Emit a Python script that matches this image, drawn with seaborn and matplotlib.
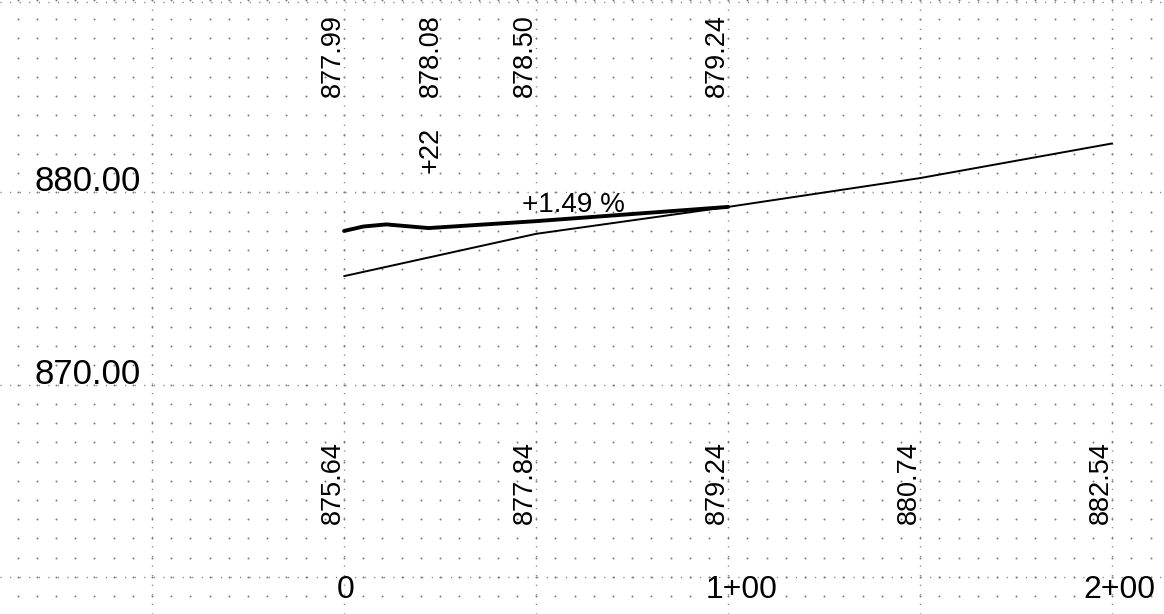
import numpy as np
import pandas as pd
import matplotlib
matplotlib.use("Agg")
import matplotlib.pyplot as plt
import seaborn as sns

# ---- data ----
ground_stations = [0, 5, 11, 22, 50, 100]
ground_elev = [877.99, 878.22, 878.33, 878.14, 878.50, 879.24]
ground_label_stations = [0, 22, 50, 100]
ground_label_elev = [877.99, 878.08, 878.50, 879.24]

grade_stations = [0, 50, 100, 150, 200]
grade_elev = [875.64, 877.84, 879.24, 880.74, 882.54]

station_ticks = [0, 100, 200]
station_labels = ["0", "1+00", "2+00"]
elev_ticks = [870, 880]
elev_labels = ["870.00", "880.00"]
grade_text = "+1.49 %"
pc_text = "+22"
pc_station = 22

sns.set_style("white")
plt.rcParams['font.family'] = ['Liberation Sans', 'DejaVu Sans']
plt.rcParams['text.color'] = 'black'

fig = plt.figure(figsize=(11.64, 6.14), dpi=100)
ax = fig.add_axes([0, 0, 1, 1])
for s in ax.spines.values():
    s.set_visible(False)

# background dot lattice (5 ft x 1 unit)
gx = np.arange(-85, 215, 5)
gy = np.arange(859, 891, 1)
GX, GY = np.meshgrid(gx, gy)
ax.scatter(GX.ravel(), GY.ravel(), s=2.0, color='#7a7a7a', linewidths=0, zorder=1)

# major dotted lines
for xv in [-50, 0, 50, 100, 150, 200]:
    ax.axvline(xv, color='#7a7a7a', lw=1.0, linestyle=(0, (0.8, 6.1)), zorder=1)
for yv in [860, 870, 880, 889.9]:
    ax.axhline(yv, color='#7a7a7a', lw=1.0, linestyle=(0, (0.8, 6.1)), zorder=1)

df_g = pd.DataFrame({"station": ground_stations, "elev": ground_elev})
df_p = pd.DataFrame({"station": grade_stations, "elev": grade_elev})
sns.lineplot(data=df_p, x="station", y="elev", ax=ax, color='black', lw=1.4,
             sort=False, estimator=None, zorder=3)
sns.lineplot(data=df_g, x="station", y="elev", ax=ax, color='black', lw=2.8,
             sort=False, estimator=None, zorder=4, solid_joinstyle='round',
             solid_capstyle='round')
ax.set_xlabel("")
ax.set_ylabel("")
ax.set_xticks([])
ax.set_yticks([])
ax.set_xlim(-89.6, 213.5)
ax.set_ylim(858.07, 890.0)

# elevation labels (left)
for yv, lab in zip(elev_ticks, elev_labels):
    ax.text(-80.5, yv + 0.05, lab, fontsize=25, ha='left', va='baseline',
            color='black', zorder=5)

# station labels (bottom)
station_xpos = {0: 0.3, 100: 103.5, 200: 201.8}
for xv, lab in zip(station_ticks, station_labels):
    ax.text(station_xpos[xv], 859.3, lab, fontsize=23, ha='center', va='center',
            color='black', zorder=5)

# top rotated labels (existing ground)
for xv, v in zip(ground_label_stations, ground_label_elev):
    ha = 'center' if xv == pc_station else 'right'
    ax.text(xv + (0.5 if ha == 'center' else 0.4), 884.97, f"{v:.2f}", rotation=90,
            fontsize=19.5, ha=ha, va='bottom', color='black', zorder=5)

# PC label
ax.text(pc_station + 0.5, 881.0, pc_text, rotation=90, fontsize=19.5,
        ha='center', va='bottom', color='black', zorder=5)

# bottom rotated labels (grade)
for xv, v in zip(grade_stations, grade_elev):
    ax.text(xv + 0.4, 862.76, f"{v:.2f}", rotation=90, fontsize=19.5,
            ha='right', va='bottom', color='black', zorder=5)

# grade percentage
ax.text(46.4, 878.95, grade_text, fontsize=20, ha='left', va='baseline',
        color='black', zorder=5)

fig.savefig("out.png", dpi=100)
